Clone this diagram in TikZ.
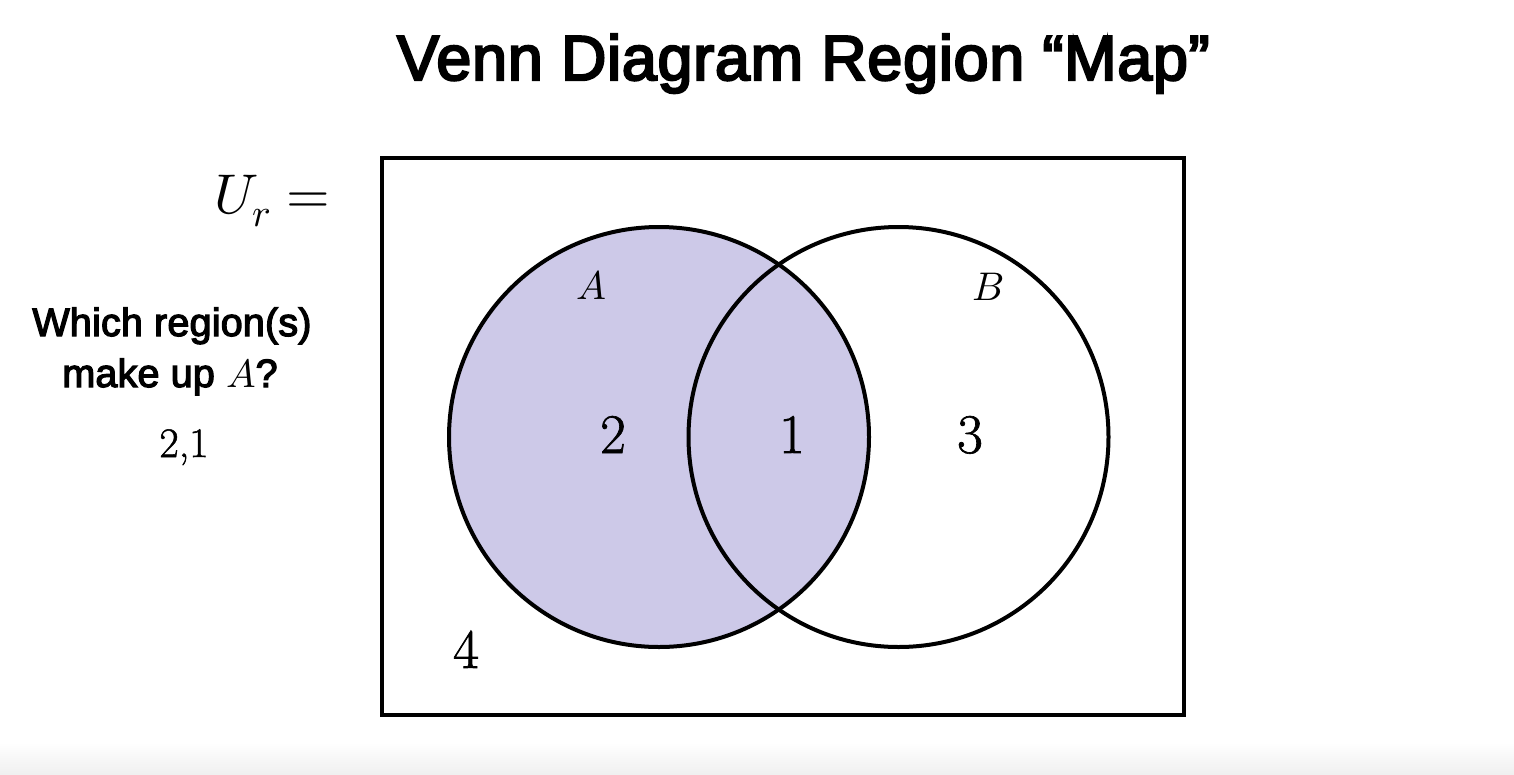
\documentclass[tikz,border=0pt]{standalone}
\usepackage{fontspec}
\usepackage{unicode-math}
\setmathfont{Latin Modern Math}
\newfontfamily\headfont[FakeStretch=0.99, FakeBold=3.6, LetterSpace=1.2]{Liberation Sans}
\newfontfamily\qfont[FakeBold=3.2, LetterSpace=0.5]{Liberation Sans}
\newfontfamily\numfont[FakeBold=1.2]{Latin Modern Roman}
\definecolor{lav}{RGB}{205,201,232}
\tikzset{
  ln/.style={line width=4pt},
  setcirc/.style={circle, ln, draw, minimum size=420pt, inner sep=0pt},
  regnum/.style={anchor=base, font=\numfont\fontsize{56}{60}\selectfont},
  setlbl/.style={anchor=base, font=\fontsize{40}{44}\selectfont},
  qtext/.style={anchor=base, font=\qfont\fontsize{39.5}{44}\selectfont}
}
\begin{document}
\begin{tikzpicture}[x=1pt,y=-1pt]
\useasboundingbox (0,0) rectangle (1514,774);
\shade[top color=white, bottom color=black!6] (0,742) rectangle (1514,774);
\node[anchor=base, font=\headfont\fontsize{63.5}{70}\selectfont] (title) at (803.5,80) {Venn Diagram Region “Map”};
\node[draw, ln, minimum width=802pt, minimum height=557.5pt, inner sep=0pt] (U) at (782.5,436.25) {};
\node[setcirc, fill=lav] (A) at (659,437) {};
\node[setcirc] (B) at (898.5,437) {};
\node[setlbl] (Alab) at (591,299) {$A$};
\node[setlbl] (Blab) at (988,300) {$B$};
\node[regnum] (r2) at (613,453) {2};
\node[regnum] (r1) at (792,453) {1};
\node[regnum] (r3) at (970,453) {3};
\node[regnum] (r4) at (466,668) {4};
\node[anchor=base east, font=\fontsize{56}{60}\selectfont] (Ur) at (334,213) {$U_r=$};
\node[qtext] (q1) at (172,336) {Which region(s)};
\node[qtext] (q2) at (170,387) {make up $A$?};
\node[anchor=base, font=\numfont\fontsize{42}{46}\selectfont] (ans) at (184,457) {2,1};
\end{tikzpicture}
\end{document}
